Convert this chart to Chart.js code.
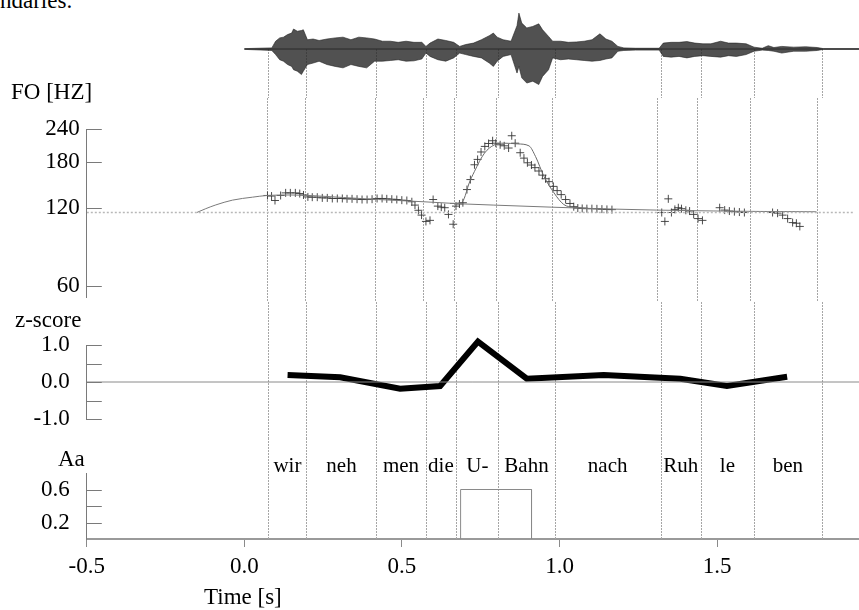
<!DOCTYPE html>
<html>
<head>
<meta charset="utf-8">
<title>F0 contour with Fujisaki model</title>
<script src="https://cdn.jsdelivr.net/npm/chart.js@4.4.1/dist/chart.umd.min.js"></script>
<style>
  html, body { margin: 0; padding: 0; background: #fff; }
  #page { position: relative; width: 859px; height: 610px; overflow: hidden; font-family: 'Liberation Serif', 'Times New Roman', serif; color: #000; }
  #page canvas { position: absolute; left: 0; }
  .label { position: absolute; font-size: 23px; line-height: 23px; white-space: nowrap; }
</style>
</head>
<body>
<div id="page">
  <div class="label" style="left:0; top:-11px;">ndaries.</div>
  <canvas id="waveChart" width="859" height="98" style="top:0"></canvas>
  <canvas id="f0Chart" width="859" height="204" style="top:98px"></canvas>
  <canvas id="zChart" width="859" height="136" style="top:302px"></canvas>
  <canvas id="aaChart" width="859" height="172" style="top:438px"></canvas>
  <div class="label" style="left:11px; top:80px;">FO [HZ]</div>
  <div class="label" style="left:15px; top:308px;">z-score</div>
  <div class="label" style="left:58px; top:447px;">Aa</div>
  <div class="label" style="left:204px; top:585px;">Time [s]</div>
</div>
<script>
//
// Variables
//

// Time axis
var timeMin = -0.5;
var timeMax = 1.95;
var timeTicks = [-0.5, 0.0, 0.5, 1.0, 1.5];

// Syllables and their boundaries (s)
var syllables = ['wir', 'neh', 'men', 'die', 'U-', 'Bahn', 'nach', 'Ruh', 'le', 'ben'];
var boundaryTimes = [0.076, 0.197, 0.419, 0.575, 0.672, 0.806, 0.984, 1.321, 1.448, 1.617, 1.832];

// Speech waveform envelope (relative amplitude)
var waveTimes = [0, 0.087, 0.099, 0.112, 0.124, 0.137, 0.150, 0.156, 0.168, 0.181,
  0.187, 0.200, 0.218, 0.237, 0.262, 0.288, 0.313, 0.338, 0.363, 0.388,
  0.413, 0.438, 0.463, 0.488, 0.513, 0.538, 0.563, 0.576, 0.589, 0.614,
  0.639, 0.664, 0.683, 0.702, 0.727, 0.752, 0.777, 0.790, 0.802, 0.821,
  0.846, 0.865, 0.871, 0.880, 0.896, 0.915, 0.934, 0.946, 0.965, 0.978,
  1.003, 1.028, 1.053, 1.078, 1.103, 1.128, 1.147, 1.166, 1.185, 1.204,
  1.241, 1.316, 1.329, 1.354, 1.379, 1.404, 1.429, 1.455, 1.480, 1.511,
  1.536, 1.561, 1.592, 1.617, 1.643, 1.662, 1.680, 1.705, 1.743, 1.781,
  1.818, 1.837, 1.95];
var waveUpper = [0.01, 0.03, 0.21, 0.30, 0.32, 0.39, 0.43, 0.54, 0.48, 0.50,
  0.52, 0.25, 0.27, 0.23, 0.27, 0.30, 0.32, 0.25, 0.32, 0.30,
  0.27, 0.21, 0.21, 0.18, 0.21, 0.18, 0.18, 0.07, 0.16, 0.27,
  0.23, 0.18, 0.07, 0.12, 0.16, 0.25, 0.36, 0.43, 0.32, 0.25,
  0.21, 0.63, 0.97, 0.70, 0.57, 0.61, 0.68, 0.52, 0.34, 0.21,
  0.21, 0.18, 0.19, 0.21, 0.25, 0.41, 0.27, 0.21, 0.07, 0.03,
  0.02, 0.02, 0.16, 0.18, 0.18, 0.20, 0.16, 0.14, 0.14, 0.21,
  0.16, 0.16, 0.14, 0.05, 0.02, 0.09, 0.04, 0.07, 0.05, 0.06,
  0.04, 0.01, 0.01];
var waveLower = [-0.01, -0.04, -0.15, -0.29, -0.33, -0.42, -0.47, -0.56, -0.60, -0.69,
  -0.60, -0.42, -0.38, -0.33, -0.42, -0.47, -0.51, -0.42, -0.47, -0.51,
  -0.33, -0.33, -0.31, -0.29, -0.33, -0.32, -0.27, -0.11, -0.20, -0.29,
  -0.33, -0.24, -0.11, -0.15, -0.20, -0.24, -0.38, -0.47, -0.33, -0.20,
  -0.15, -0.65, -0.47, -0.78, -0.92, -0.87, -0.96, -0.74, -0.56, -0.24,
  -0.29, -0.27, -0.29, -0.31, -0.33, -0.31, -0.27, -0.24, -0.06, -0.04,
  -0.03, -0.03, -0.20, -0.22, -0.20, -0.24, -0.20, -0.18, -0.20, -0.22,
  -0.18, -0.20, -0.15, -0.06, -0.03, -0.04, -0.06, -0.11, -0.06, -0.06,
  -0.04, -0.01, -0.01];

// Measured F0 (Hz)
var f0Times = [0.077, 0.090, 0.101, 0.119, 0.135, 0.150, 0.166, 0.180, 0.192, 0.206,
  0.220, 0.236, 0.252, 0.268, 0.284, 0.300, 0.316, 0.331, 0.347, 0.363,
  0.379, 0.395, 0.411, 0.427, 0.443, 0.458, 0.474, 0.490, 0.506, 0.522,
  0.538, 0.548, 0.559, 0.569, 0.583, 0.596, 0.606, 0.621, 0.632, 0.643,
  0.655, 0.670, 0.679, 0.690, 0.701, 0.714, 0.725, 0.738, 0.748, 0.759,
  0.771, 0.783, 0.796, 0.806, 0.820, 0.833, 0.847, 0.857, 0.868, 0.884,
  0.896, 0.907, 0.920, 0.931, 0.944, 0.955, 0.965, 0.976, 0.990, 1.002,
  1.015, 1.029, 1.043, 1.055, 1.068, 1.082, 1.097, 1.113, 1.129, 1.145,
  1.161, 1.177, 1.336, 1.346, 1.357, 1.367, 1.378, 1.389, 1.399, 1.413,
  1.425, 1.438, 1.452, 1.466, 1.521, 1.537, 1.552, 1.568, 1.584, 1.600,
  1.690, 1.706, 1.722, 1.738, 1.754, 1.766, 1.777];
var f0Values = [133.7, 133.0, 127.9, 133.7, 136.8, 136.8, 136.8, 136.0, 134.3, 132.0,
  131.7, 131.7, 130.9, 130.9, 130.2, 130.2, 130.2, 129.8, 129.8, 129.4,
  129.0, 129.0, 129.4, 130.2, 130.2, 129.8, 129.4, 129.0, 128.3, 127.9,
  126.5, 122.8, 117.3, 112.4, 106.3, 107.3, 129.0, 121.7, 120.6, 120.0,
  113.1, 103.7, 121.7, 124.0, 125.4, 140.9, 153.9, 175.4, 183.9, 196.4,
  206.3, 211.7, 216.9, 212.3, 209.3, 207.4, 203.4, 226.7, 212.3, 195.1,
  186.0, 178.5, 175.0, 171.0, 166.0, 160.0, 155.0, 151.1, 144.9, 139.6,
  134.7, 129.0, 124.6, 121.1, 119.6, 119.2, 119.0, 119.0, 118.8, 118.5,
  118.2, 118.0, 115.0, 106.3, 129.8, 115.0, 118.2, 120.0, 119.0, 117.3,
  116.5, 113.1, 109.0, 107.3, 120.0, 117.5, 116.5, 115.9, 115.5, 115.0,
  115.0, 114.3, 112.4, 109.0, 105.2, 104.6, 101.7];

// Model: base frequency, phrase component and phrase + accent contour (Hz)
var baseF0 = 115;
var phraseTimes = [-0.149, -0.12, -0.088, -0.035, 0.029, 0.076, 0.15, 0.22, 0.32, 0.431,
  0.574, 0.694, 0.80, 0.983, 1.15, 1.319, 1.50, 1.65, 1.83];
var phraseValues = [115, 119, 123, 128.3, 131.7, 133.7, 134.3, 133.5, 131.3, 129,
  126.5, 124.2, 122.8, 120.6, 118.8, 117.5, 116.6, 116.1, 115.8];
var modelTimes = [0.66, 0.695, 0.705, 0.72, 0.738, 0.770, 0.801, 0.833, 0.875, 0.912,
  0.933, 0.960, 0.992, 1.023, 1.055, 1.10];
var modelValues = [124.6, 125.4, 130, 148, 165.4, 194.4, 209, 212.3, 211, 207.4,
  188.7, 158.3, 136.8, 123.5, 120.4, 119.6];
var f0Ticks = [60, 120, 180, 240];

// Syllable prominence z-scores at syllable centres
var zTimes = [0.137, 0.304, 0.494, 0.621, 0.741, 0.896, 1.14, 1.383, 1.531, 1.722];
var zValues = [0.19, 0.13, -0.18, -0.11, 1.09, 0.09, 0.19, 0.09, -0.11, 0.14];
var zTicks = [-1.0, -0.5, 0.0, 0.5, 1.0];

// Accent command
var accentOnset = 0.686;
var accentOffset = 0.911;
var accentAmp = 0.6;
var aaTicks = [0.2, 0.4, 0.6];

var AXIS_LEFT = 86.8;
var serif = "'Liberation Serif', 'Times New Roman', serif";


//
// Methods
//

/**
 * Zip two arrays into {x, y} points
 */
function toPoints(xs, ys) {
    return xs.map(function (x, i) {
        return { x: x, y: ys[i] };
    });
};


/**
 * Time axis shared by all panels
 */
function timeScale(show) {
    return {
        type: 'linear',
        min: timeMin,
        max: timeMax,
        display: show,
        afterBuildTicks: function (scale) {
            scale.ticks = timeTicks.map(function (v) { return { value: v }; });
        },
        afterFit: function (scale) {
            if (show) scale.height = 71;
        },
        ticks: {
            padding: 6,
            maxRotation: 0,
            autoSkip: false,
            callback: function (v) { return v.toFixed(1); }
        },
        grid: { drawOnChartArea: false, drawTicks: true, tickLength: 8, color: '#8a8a8a' },
        border: { display: true, color: '#9a9a9a', width: 2 }
    };
};


/**
 * Vertical value axis with fixed width and ticks drawn by innerTicks
 */
function valueScale(extra, tickValues, padding, format) {
    var scale = {
        afterBuildTicks: function (s) {
            s.ticks = tickValues.map(function (v) { return { value: v }; });
        },
        afterFit: function (s) {
            // keep the plot area where the layout padding puts it
            s.width = AXIS_LEFT;
            s.paddingTop = 0;
            s.paddingBottom = 0;
        },
        ticks: { padding: padding, autoSkip: false, callback: format },
        grid: { display: false, drawTicks: false },
        border: { display: true, color: '#7a7a7a', width: 1 }
    };
    Object.keys(extra).forEach(function (k) { scale[k] = extra[k]; });
    return scale;
};


/**
 * Syllable boundaries, drawn across each panel
 */
var boundaryPlugin = {
    id: 'boundaries',
    beforeDatasetsDraw: function (chart, args, opts) {
        var x = chart.scales.x;
        var ctx = chart.ctx;
        var top = opts.fromZero ? chart.scales.y.getPixelForValue(0) : 0;
        var bottom = opts.toArea ? chart.chartArea.bottom : chart.height;
        ctx.save();
        ctx.strokeStyle = '#a6a6a6';
        ctx.lineWidth = 1;
        ctx.setLineDash([2, 1]);
        boundaryTimes.forEach(function (t) {
            var px = Math.round(x.getPixelForValue(t)) + 0.5;
            ctx.beginPath();
            ctx.moveTo(px, top);
            ctx.lineTo(px, bottom);
            ctx.stroke();
        });
        ctx.restore();
    }
};


/**
 * Tick marks pointing into the plot, as in the original figure
 */
var innerTickPlugin = {
    id: 'innerTicks',
    afterDraw: function (chart) {
        var y = chart.scales.y;
        var left = chart.chartArea.left;
        var ctx = chart.ctx;
        ctx.save();
        ctx.strokeStyle = '#7a7a7a';
        ctx.lineWidth = 1;
        y.ticks.forEach(function (tick) {
            var py = Math.round(y.getPixelForValue(tick.value)) + 0.5;
            ctx.beginPath();
            ctx.moveTo(left, py);
            ctx.lineTo(left + 15, py);
            ctx.stroke();
        });
        ctx.restore();
    }
};


/**
 * Syllable labels centred between boundaries
 */
var syllablePlugin = {
    id: 'syllables',
    afterDraw: function (chart) {
        var x = chart.scales.x;
        var ctx = chart.ctx;
        ctx.save();
        ctx.font = '21px ' + serif;
        ctx.fillStyle = '#000';
        ctx.textAlign = 'center';
        ctx.textBaseline = 'alphabetic';
        syllables.forEach(function (s, i) {
            var mid = (boundaryTimes[i] + boundaryTimes[i + 1]) / 2;
            ctx.fillText(s, x.getPixelForValue(mid), chart.chartArea.top - 1);
        });
        ctx.restore();
    }
};


Chart.defaults.font.family = serif;
Chart.defaults.font.size = 23;
Chart.defaults.color = '#000';
Chart.defaults.animation = false;
Chart.defaults.events = [];
Chart.defaults.plugins.legend.display = false;
Chart.defaults.plugins.tooltip.enabled = false;
Chart.defaults.elements.point.radius = 0;


// Waveform
new Chart(document.querySelector('#waveChart'), {
    type: 'line',
    data: {
        datasets: [{
            data: toPoints(waveTimes, waveUpper),
            borderColor: '#222',
            borderWidth: 0.6,
            backgroundColor: 'rgba(38,38,38,0.8)',
            fill: '+1'
        }, {
            data: toPoints(waveTimes, waveLower),
            borderColor: '#222',
            borderWidth: 0.6
        }, {
            data: [{ x: 0, y: 0 }, { x: timeMax, y: 0 }],
            borderColor: '#333',
            borderWidth: 1
        }]
    },
    options: {
        responsive: false,
        layout: { padding: { left: AXIS_LEFT, right: 0, top: 0, bottom: 0 } },
        scales: {
            x: timeScale(false),
            y: { type: 'linear', min: -1.324, max: 1.324, display: false }
        },
        plugins: { boundaries: { fromZero: true } }
    },
    plugins: [boundaryPlugin]
});


// F0 contour
new Chart(document.querySelector('#f0Chart'), {
    type: 'line',
    data: {
        datasets: [{
            data: [{ x: timeMin, y: baseF0 }, { x: timeMax, y: baseF0 }],
            borderColor: '#b8b8b8',
            borderWidth: 1.5,
            borderDash: [2, 2]
        }, {
            data: toPoints(phraseTimes, phraseValues),
            borderColor: '#7a7a7a',
            borderWidth: 1,
            cubicInterpolationMode: 'monotone'
        }, {
            data: toPoints(modelTimes, modelValues),
            borderColor: '#6a6a6a',
            borderWidth: 1,
            cubicInterpolationMode: 'monotone'
        }, {
            data: toPoints(f0Times, f0Values),
            showLine: false,
            pointStyle: 'cross',
            pointRadius: 4,
            pointBorderWidth: 1,
            pointBorderColor: 'rgba(55,55,55,0.9)'
        }]
    },
    options: {
        responsive: false,
        layout: { padding: { left: 0, right: 0, top: 31.3, bottom: 3.7 } },
        scales: {
            x: timeScale(false),
            y: valueScale({ type: 'logarithmic', min: 54.5, max: 240 }, f0Ticks, 7,
                function (v) { return String(v); })
        }
    },
    plugins: [boundaryPlugin, innerTickPlugin]
});


// z-scores
new Chart(document.querySelector('#zChart'), {
    type: 'line',
    data: {
        datasets: [{
            data: [{ x: timeMin, y: 0 }, { x: timeMax, y: 0 }],
            borderColor: '#8a8a8a',
            borderWidth: 1
        }, {
            data: toPoints(zTimes, zValues),
            borderColor: '#000',
            borderWidth: 6,
            borderJoinStyle: 'miter',
            clip: false
        }]
    },
    options: {
        responsive: false,
        layout: { padding: { left: 0, right: 0, top: 43, bottom: 19 } },
        scales: {
            x: timeScale(false),
            y: valueScale({ type: 'linear', min: -1, max: 1 }, zTicks, 17,
                function (v) { return Math.abs(v) === 0.5 ? '' : v.toFixed(1); })
        }
    },
    plugins: [boundaryPlugin, innerTickPlugin]
});


// Accent command amplitude and time axis
new Chart(document.querySelector('#aaChart'), {
    type: 'line',
    data: {
        datasets: [{
            data: [
                { x: accentOnset, y: 0 }, { x: accentOnset, y: accentAmp },
                { x: accentOffset, y: accentAmp }, { x: accentOffset, y: 0 }
            ],
            borderColor: '#8a8a8a',
            borderWidth: 1
        }]
    },
    options: {
        responsive: false,
        layout: { padding: { left: 0, right: 0, top: 35, bottom: 0 } },
        scales: {
            x: timeScale(true),
            y: valueScale({ type: 'linear', min: 0, max: 0.8 }, aaTicks, 17,
                function (v) { return Math.abs(v - 0.4) < 1e-6 ? '' : v.toFixed(1); })
        },
        plugins: { boundaries: { toArea: true } }
    },
    plugins: [boundaryPlugin, innerTickPlugin, syllablePlugin]
});
</script>
</body>
</html>
